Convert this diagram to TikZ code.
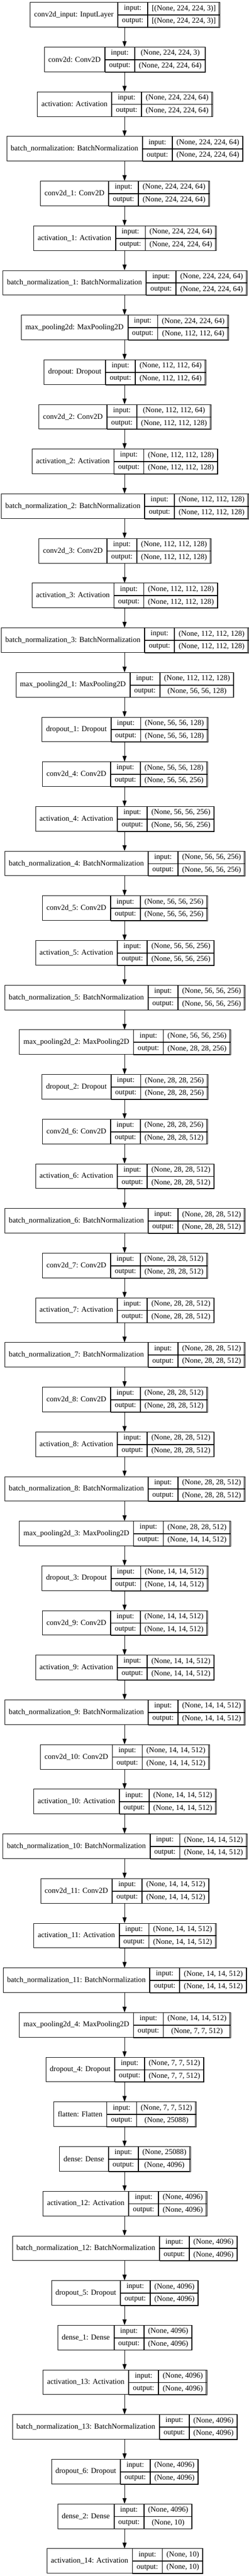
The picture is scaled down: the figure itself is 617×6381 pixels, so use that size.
\documentclass[tikz,border=0pt]{standalone}
\usepackage{fontspec}
\setmainfont{Liberation Serif}
\usetikzlibrary{arrows.meta}
\newlength\wna \newlength\wio \newlength\wva \newlength\wtot
\newcommand\lfont{\fontsize{18.67}{22}\selectfont}
\tikzset{
  outerbox/.style={draw, line width=1pt, inner sep=0pt, minimum height=61pt},
  cellbox/.style={draw, line width=1pt, inner sep=0pt, minimum height=30.5pt, font=\lfont, text=black},
  namebox/.style={draw, line width=1pt, inner sep=0pt, minimum height=61pt, font=\lfont, text=black},
  measurebox/.style={inner sep=0pt, font=\lfont},
  flow/.style={line width=1pt, -{Triangle[length=14pt,width=10pt]}}
}
\newcommand\kerasLayer[4]{%
  \pgfmathsetmacro\layercy{-(36.5+#1*110.65)}%
  \node[measurebox] (M#1) at (309,\layercy) {%
    \settowidth{\dimen0}{#2}\global\wna=\dimen0
    \settowidth{\dimen0}{output:}\global\wio=\dimen0
    \settowidth{\dimen0}{#3}\settowidth{\dimen2}{#4}%
    \ifdim\dimen2>\dimen0 \dimen0=\dimen2 \fi
    \global\wva=\dimen0 };
  \addtolength\wna{20pt}\addtolength\wio{20pt}\addtolength\wva{20pt}%
  \setlength\wtot{\wna}\addtolength\wtot{\wio}\addtolength\wtot{\wva}%
  \node[outerbox, minimum width=\wtot] (L#1) at (309,\layercy) {};
  \node[namebox, minimum width=\wna, anchor=west] (N#1) at (L#1.west) {#2};
  \node[cellbox, minimum width=\wio, anchor=north west] (I#1) at (N#1.north east) {input:};
  \node[cellbox, minimum width=\wio, anchor=north west] (O#1) at (I#1.south west) {output:};
  \node[cellbox, minimum width=\wva, anchor=north west] (IV#1) at (I#1.north east) {#3};
  \node[cellbox, minimum width=\wva, anchor=north west] (OV#1) at (O#1.north east) {#4};
}
\begin{document}
\begin{tikzpicture}[x=1pt,y=1pt]
\fill[white] (0,0) rectangle (617,-6381);
\path[use as bounding box] (0,0) rectangle (617,-6381);
\kerasLayer{0}{conv2d\_input: InputLayer}{[(None, 224, 224, 3)]}{[(None, 224, 224, 3)]}
\kerasLayer{1}{conv2d: Conv2D}{(None, 224, 224, 3)}{(None, 224, 224, 64)}
\kerasLayer{2}{activation: Activation}{(None, 224, 224, 64)}{(None, 224, 224, 64)}
\kerasLayer{3}{batch\_normalization: BatchNormalization}{(None, 224, 224, 64)}{(None, 224, 224, 64)}
\kerasLayer{4}{conv2d\_1: Conv2D}{(None, 224, 224, 64)}{(None, 224, 224, 64)}
\kerasLayer{5}{activation\_1: Activation}{(None, 224, 224, 64)}{(None, 224, 224, 64)}
\kerasLayer{6}{batch\_normalization\_1: BatchNormalization}{(None, 224, 224, 64)}{(None, 224, 224, 64)}
\kerasLayer{7}{max\_pooling2d: MaxPooling2D}{(None, 224, 224, 64)}{(None, 112, 112, 64)}
\kerasLayer{8}{dropout: Dropout}{(None, 112, 112, 64)}{(None, 112, 112, 64)}
\kerasLayer{9}{conv2d\_2: Conv2D}{(None, 112, 112, 64)}{(None, 112, 112, 128)}
\kerasLayer{10}{activation\_2: Activation}{(None, 112, 112, 128)}{(None, 112, 112, 128)}
\kerasLayer{11}{batch\_normalization\_2: BatchNormalization}{(None, 112, 112, 128)}{(None, 112, 112, 128)}
\kerasLayer{12}{conv2d\_3: Conv2D}{(None, 112, 112, 128)}{(None, 112, 112, 128)}
\kerasLayer{13}{activation\_3: Activation}{(None, 112, 112, 128)}{(None, 112, 112, 128)}
\kerasLayer{14}{batch\_normalization\_3: BatchNormalization}{(None, 112, 112, 128)}{(None, 112, 112, 128)}
\kerasLayer{15}{max\_pooling2d\_1: MaxPooling2D}{(None, 112, 112, 128)}{(None, 56, 56, 128)}
\kerasLayer{16}{dropout\_1: Dropout}{(None, 56, 56, 128)}{(None, 56, 56, 128)}
\kerasLayer{17}{conv2d\_4: Conv2D}{(None, 56, 56, 128)}{(None, 56, 56, 256)}
\kerasLayer{18}{activation\_4: Activation}{(None, 56, 56, 256)}{(None, 56, 56, 256)}
\kerasLayer{19}{batch\_normalization\_4: BatchNormalization}{(None, 56, 56, 256)}{(None, 56, 56, 256)}
\kerasLayer{20}{conv2d\_5: Conv2D}{(None, 56, 56, 256)}{(None, 56, 56, 256)}
\kerasLayer{21}{activation\_5: Activation}{(None, 56, 56, 256)}{(None, 56, 56, 256)}
\kerasLayer{22}{batch\_normalization\_5: BatchNormalization}{(None, 56, 56, 256)}{(None, 56, 56, 256)}
\kerasLayer{23}{max\_pooling2d\_2: MaxPooling2D}{(None, 56, 56, 256)}{(None, 28, 28, 256)}
\kerasLayer{24}{dropout\_2: Dropout}{(None, 28, 28, 256)}{(None, 28, 28, 256)}
\kerasLayer{25}{conv2d\_6: Conv2D}{(None, 28, 28, 256)}{(None, 28, 28, 512)}
\kerasLayer{26}{activation\_6: Activation}{(None, 28, 28, 512)}{(None, 28, 28, 512)}
\kerasLayer{27}{batch\_normalization\_6: BatchNormalization}{(None, 28, 28, 512)}{(None, 28, 28, 512)}
\kerasLayer{28}{conv2d\_7: Conv2D}{(None, 28, 28, 512)}{(None, 28, 28, 512)}
\kerasLayer{29}{activation\_7: Activation}{(None, 28, 28, 512)}{(None, 28, 28, 512)}
\kerasLayer{30}{batch\_normalization\_7: BatchNormalization}{(None, 28, 28, 512)}{(None, 28, 28, 512)}
\kerasLayer{31}{conv2d\_8: Conv2D}{(None, 28, 28, 512)}{(None, 28, 28, 512)}
\kerasLayer{32}{activation\_8: Activation}{(None, 28, 28, 512)}{(None, 28, 28, 512)}
\kerasLayer{33}{batch\_normalization\_8: BatchNormalization}{(None, 28, 28, 512)}{(None, 28, 28, 512)}
\kerasLayer{34}{max\_pooling2d\_3: MaxPooling2D}{(None, 28, 28, 512)}{(None, 14, 14, 512)}
\kerasLayer{35}{dropout\_3: Dropout}{(None, 14, 14, 512)}{(None, 14, 14, 512)}
\kerasLayer{36}{conv2d\_9: Conv2D}{(None, 14, 14, 512)}{(None, 14, 14, 512)}
\kerasLayer{37}{activation\_9: Activation}{(None, 14, 14, 512)}{(None, 14, 14, 512)}
\kerasLayer{38}{batch\_normalization\_9: BatchNormalization}{(None, 14, 14, 512)}{(None, 14, 14, 512)}
\kerasLayer{39}{conv2d\_10: Conv2D}{(None, 14, 14, 512)}{(None, 14, 14, 512)}
\kerasLayer{40}{activation\_10: Activation}{(None, 14, 14, 512)}{(None, 14, 14, 512)}
\kerasLayer{41}{batch\_normalization\_10: BatchNormalization}{(None, 14, 14, 512)}{(None, 14, 14, 512)}
\kerasLayer{42}{conv2d\_11: Conv2D}{(None, 14, 14, 512)}{(None, 14, 14, 512)}
\kerasLayer{43}{activation\_11: Activation}{(None, 14, 14, 512)}{(None, 14, 14, 512)}
\kerasLayer{44}{batch\_normalization\_11: BatchNormalization}{(None, 14, 14, 512)}{(None, 14, 14, 512)}
\kerasLayer{45}{max\_pooling2d\_4: MaxPooling2D}{(None, 14, 14, 512)}{(None, 7, 7, 512)}
\kerasLayer{46}{dropout\_4: Dropout}{(None, 7, 7, 512)}{(None, 7, 7, 512)}
\kerasLayer{47}{flatten: Flatten}{(None, 7, 7, 512)}{(None, 25088)}
\kerasLayer{48}{dense: Dense}{(None, 25088)}{(None, 4096)}
\kerasLayer{49}{activation\_12: Activation}{(None, 4096)}{(None, 4096)}
\kerasLayer{50}{batch\_normalization\_12: BatchNormalization}{(None, 4096)}{(None, 4096)}
\kerasLayer{51}{dropout\_5: Dropout}{(None, 4096)}{(None, 4096)}
\kerasLayer{52}{dense\_1: Dense}{(None, 4096)}{(None, 4096)}
\kerasLayer{53}{activation\_13: Activation}{(None, 4096)}{(None, 4096)}
\kerasLayer{54}{batch\_normalization\_13: BatchNormalization}{(None, 4096)}{(None, 4096)}
\kerasLayer{55}{dropout\_6: Dropout}{(None, 4096)}{(None, 4096)}
\kerasLayer{56}{dense\_2: Dense}{(None, 4096)}{(None, 10)}
\kerasLayer{57}{activation\_14: Activation}{(None, 10)}{(None, 10)}
\foreach \i in {0,...,56} {
  \pgfmathtruncatemacro\j{\i+1}
  \draw[flow] (L\i.south) -- (L\j.north);
}
\end{tikzpicture}
\end{document}
